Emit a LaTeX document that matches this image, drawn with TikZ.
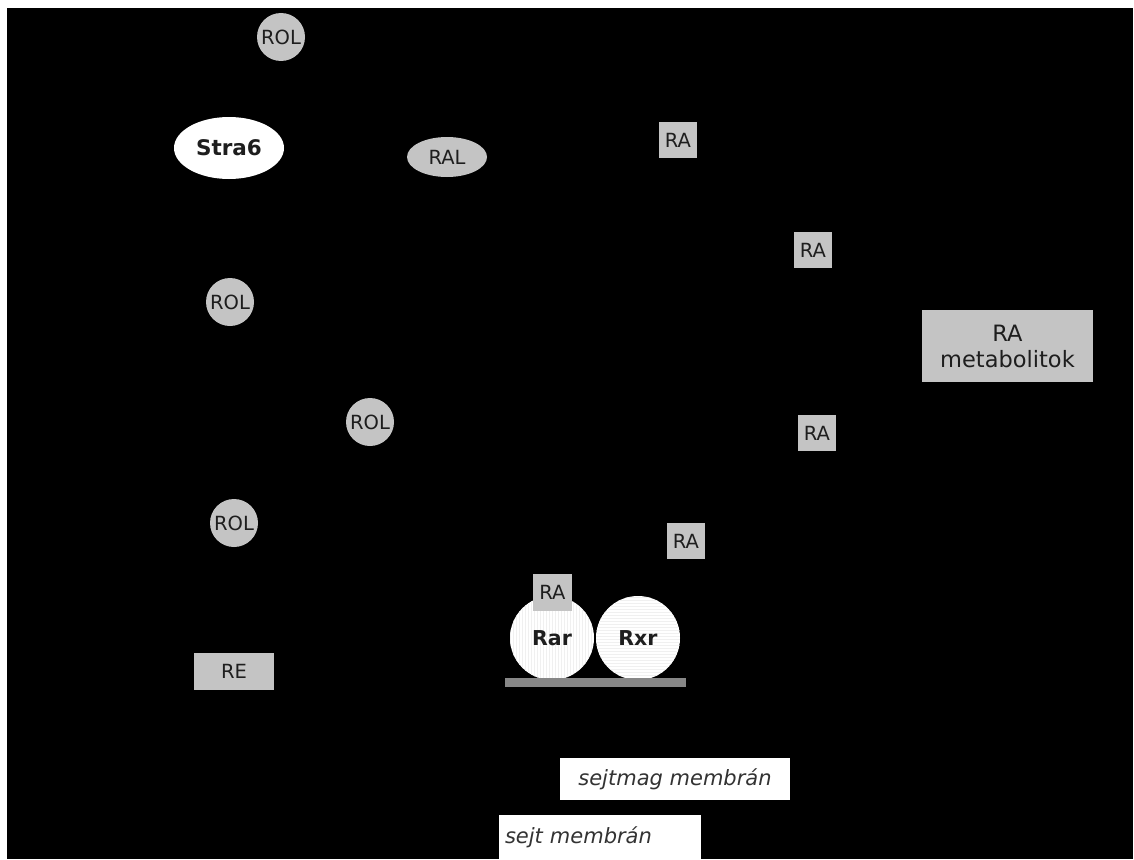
\documentclass[tikz,border=0pt]{standalone}
\usepackage{fontspec}
\setmainfont{DejaVu Sans}
\usetikzlibrary{shapes.geometric,patterns}
\definecolor{boxgray}{RGB}{196,196,196}
\definecolor{bargray}{RGB}{135,135,135}
\definecolor{txt}{RGB}{30,30,30}
\begin{document}
\begin{tikzpicture}[x=1pt,y=-1pt,
  every node/.style={font=\fontsize{19.5}{22}\selectfont, text=txt, inner sep=0pt},
  rol/.style={circle, fill=boxgray, minimum size=48},
  rabox/.style={rectangle, fill=boxgray, minimum width=38, minimum height=36},
  oval/.style={ellipse, fill=boxgray},
  receptor/.style={circle, fill=white, minimum size=84, font=\fontsize{20.5}{22}\selectfont\bfseries},
  label/.style={rectangle, fill=white, font=\fontsize{21}{22}\selectfont\itshape, text=black!80}]
\useasboundingbox (0,0) rectangle (1134,859);
\fill[white] (0,0) rectangle (1134,859);
\fill[black] (7,8) rectangle (1133,859);

\node[rol] (rol1) at (281,37) {ROL};
\node[ellipse, fill=white, minimum width=110, minimum height=62, font=\fontsize{21.5}{22}\selectfont\bfseries] (stra6) at (229,148) {Stra6};
\node[oval, minimum width=80, minimum height=40] (ral) at (447,157) {RAL};
\node[rabox] (ra1) at (678,140) {RA};
\node[rabox] (ra2) at (813,250) {RA};
\node[rectangle, fill=boxgray, minimum width=171, minimum height=72, align=center, font=\fontsize{22.5}{26}\selectfont] (met) at (1007.5,346) {RA\\metabolitok};
\node[rabox] (ra3) at (817,433) {RA};
\node[rol] (rol2) at (230,302) {ROL};
\node[rol] (rol3) at (370,422) {ROL};
\node[rol] (rol4) at (234,523) {ROL};
\node[rabox] (ra4) at (686,541) {RA};
\node[rectangle, fill=boxgray, minimum width=80, minimum height=37] (re) at (234,671) {RE};

\node[receptor, postaction={pattern=vertical lines, pattern color=gray!12}] (rar) at (552,638) {Rar};
\node[receptor, postaction={pattern=horizontal lines, pattern color=gray!12}] (rxr) at (638,638) {Rxr};
\node[rabox, minimum width=39, minimum height=37] (ra5) at (552.5,592.5) {RA};
\fill[bargray] (505,678) rectangle (686,687);

\node[label, minimum width=230, minimum height=42] (nucmem) at (675,779) {sejtmag membrán};
\node[label, minimum width=202, minimum height=44, text width=190, align=left] (cellmem) at (600,837) {sejt membrán};
\end{tikzpicture}
\end{document}
